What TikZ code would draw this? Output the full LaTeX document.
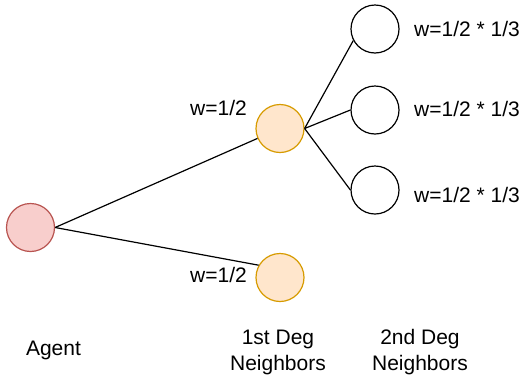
\documentclass[tikz,border=0pt]{standalone}
\usepackage{fontspec}
\setmainfont{Liberation Sans}
\definecolor{agentfill}{HTML}{F8CECC}
\definecolor{agentline}{HTML}{B85450}
\definecolor{firstfill}{HTML}{FFE6CC}
\definecolor{firstline}{HTML}{D79B00}
\begin{document}
\begin{tikzpicture}[x=1pt,y=-1pt,
  nodecirc/.style={circle,minimum size=48pt,inner sep=0pt,line width=1.2pt},
  agentnode/.style={nodecirc,draw=agentline,fill=agentfill},
  firstnode/.style={nodecirc,draw=firstline,fill=firstfill},
  secondnode/.style={nodecirc,draw=black,fill=white},
  lbl/.style={inner sep=0pt,font=\fontsize{21}{25.5}\selectfont},
  edge/.style={draw=black,line width=1.2pt}]
\useasboundingbox (0,0) rectangle (525,381);
\node[agentnode] (agent) at (30.5,227.5) {};
\node[firstnode] (f1) at (280,128.5) {};
\node[firstnode] (f2) at (280,277.5) {};
\node[secondnode] (s1) at (375,29) {};
\node[secondnode] (s2) at (375,110) {};
\node[secondnode] (s3) at (375,190) {};
\draw[edge] (agent.east) -- (f1);
\draw[edge] (agent.east) -- (f2.150);
\draw[edge] (f1.east) -- (s1.208);
\draw[edge] (f1.east) -- (s2.west);
\draw[edge] (f1.east) -- (s3.west);
\node[lbl,anchor=base west] (l1) at (190,115.5) {w=1/2};
\node[lbl,anchor=base west] (l2) at (190,282.7) {w=1/2};
\node[lbl,anchor=base west] (l3) at (414,36) {w=1/2 * 1/3};
\node[lbl,anchor=base west] (l4) at (414,116.5) {w=1/2 * 1/3};
\node[lbl,anchor=base west] (l5) at (414,202.5) {w=1/2 * 1/3};
\node[lbl,anchor=base] (tagent) at (53.5,355.7) {Agent};
\node[lbl,anchor=base,align=center] (tfirst) at (278,370) {1st Deg\\Neighbors};
\node[lbl,anchor=base,align=center] (tsecond) at (420,370) {2nd Deg\\Neighbors};
\end{tikzpicture}
\end{document}
